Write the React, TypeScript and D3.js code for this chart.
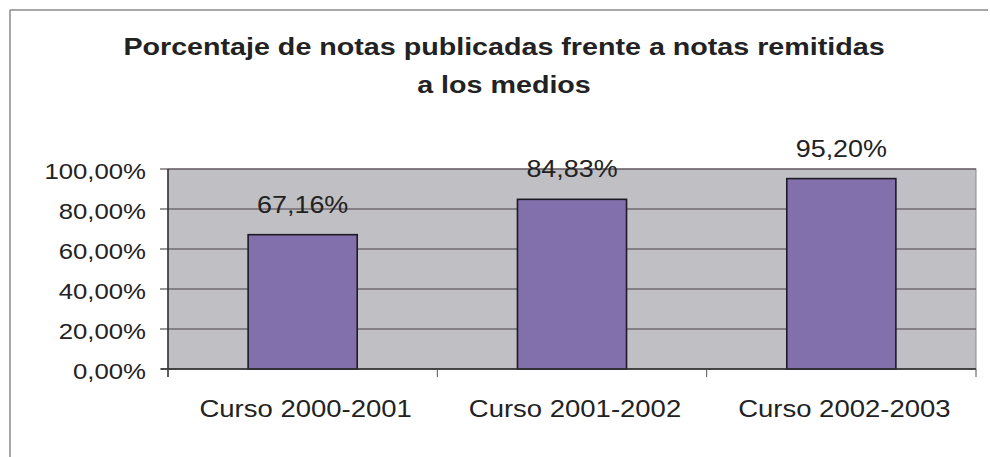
import React from "react";
import * as d3 from "d3";

const categories = ["Curso 2000-2001", "Curso 2001-2002", "Curso 2002-2003"];
const values = [67.16, 84.83, 95.2];
const yTicks = [0, 20, 40, 60, 80, 100];
const titleLines = ["Porcentaje de notas publicadas frente a notas remitidas", "a los medios"];

const W = 990;
const H = 457;
const plot = { left: 168, right: 976, top: 169, bottom: 369 };
const FONT = "'Liberation Sans', Arial, Helvetica, sans-serif";
const SX = 1.17;

const fmt = (v: number) => v.toFixed(2).replace(".", ",") + "%";

export default function App() {
  const x = d3.scaleBand<string>().domain(categories).range([plot.left, plot.right]).paddingInner(0).paddingOuter(0);
  const y = d3.scaleLinear().domain([0, 100]).range([plot.bottom, plot.top]);
  const bw = x.bandwidth() * 0.405;
  const boundaries = [plot.left, ...categories.map((c) => (x(c) as number) + x.bandwidth())];

  const stretched = (tx: number, ty: number) => `translate(${tx},${ty}) scale(${SX},1)`;

  return (
    <svg width={W} height={H} style={{ position: "absolute", left: 0, top: 0, background: "#fff" }}>
      {/* outer frame */}
      <line x1={10} y1={10} x2={988} y2={10} stroke="#8a8a8a" strokeWidth={1.5} />
      <line x1={10} y1={10} x2={10} y2={H} stroke="#8a8a8a" strokeWidth={1.5} />

      {/* title */}
      {titleLines.map((t, i) => (
        <text
          key={i}
          transform={stretched(504, 55 + i * 38)}
          textAnchor="middle"
          fontFamily={FONT}
          fontWeight="bold"
          fontSize={24.5}
          fill="#222"
        >
          {t}
        </text>
      ))}

      {/* plot background */}
      <rect x={plot.left} y={plot.top} width={plot.right - plot.left} height={plot.bottom - plot.top} fill="#bfbfc4" stroke="#8a8a8a" strokeWidth={1} />

      {/* gridlines */}
      {yTicks.map((t) => (
        <line key={t} x1={plot.left} x2={plot.right} y1={y(t)} y2={y(t)} stroke="#4a3e48" strokeWidth={1} />
      ))}

      {/* bars */}
      {categories.map((c, i) => {
        const cx = (x(c) as number) + x.bandwidth() / 2;
        return (
          <rect
            key={c}
            x={cx - bw / 2}
            y={y(values[i])}
            width={bw}
            height={y(0) - y(values[i])}
            fill="#8270ac"
            stroke="#1e1a24"
            strokeWidth={1.6}
          />
        );
      })}

      {/* axes */}
      <line x1={plot.left} x2={plot.left} y1={plot.top} y2={plot.bottom + 8} stroke="#333" strokeWidth={1.5} />
      <line x1={plot.left - 7} x2={plot.right} y1={plot.bottom} y2={plot.bottom} stroke="#333" strokeWidth={1.5} />
      {yTicks.map((t) => (
        <line key={t} x1={plot.left - 8} x2={plot.left} y1={y(t)} y2={y(t)} stroke="#333" strokeWidth={1} />
      ))}
      {boundaries.map((b, i) => (
        <line key={i} x1={b} x2={b} y1={plot.bottom} y2={plot.bottom + 8} stroke="#555" strokeWidth={1} />
      ))}

      {/* y labels */}
      {yTicks.map((t) => (
        <text
          key={t}
          transform={stretched(146, y(t) + 10)}
          textAnchor="end"
          fontFamily={FONT}
          fontSize={22}
          fill="#222"
        >
          {fmt(t)}
        </text>
      ))}

      {/* category labels */}
      {categories.map((c) => (
        <text
          key={c}
          transform={stretched((x(c) as number) + x.bandwidth() / 2 + 3, 417)}
          textAnchor="middle"
          fontFamily={FONT}
          fontSize={23.5}
          fill="#222"
        >
          {c}
        </text>
      ))}

      {/* data labels */}
      {categories.map((c, i) => (
        <text
          key={c}
          transform={stretched((x(c) as number) + x.bandwidth() / 2, y(values[i]) - 22)}
          textAnchor="middle"
          fontFamily={FONT}
          fontSize={23}
          fill="#222"
        >
          {fmt(values[i])}
        </text>
      ))}
    </svg>
  );
}
